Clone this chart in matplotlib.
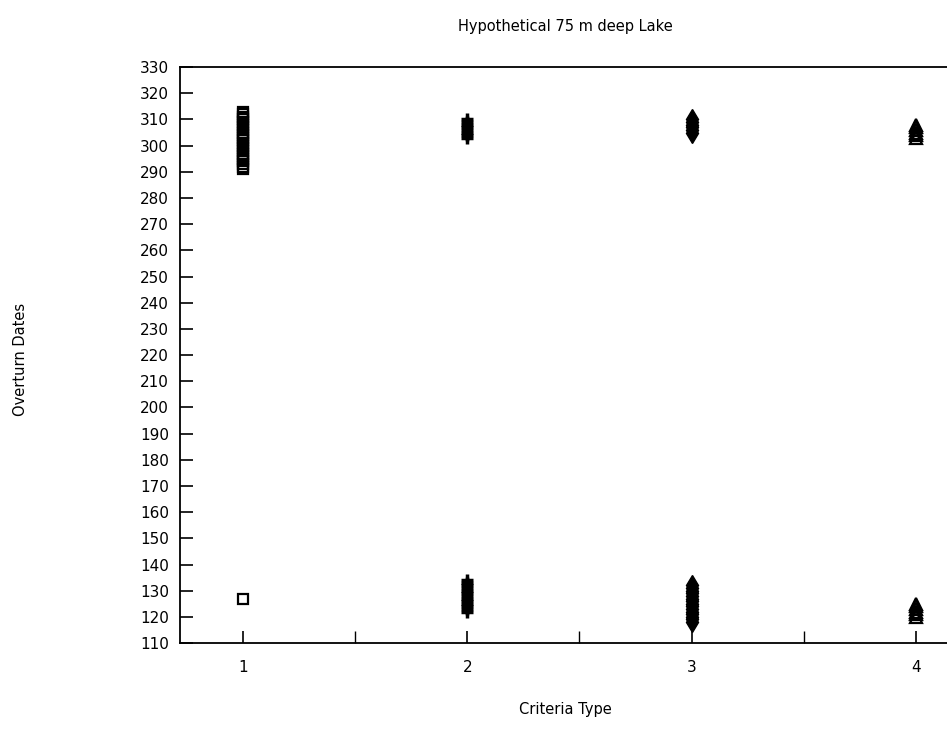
import matplotlib
matplotlib.use("Agg")
import matplotlib.pyplot as plt
import numpy as np

criteria = [1, 2, 3, 4]
c1_dates = [291, 292, 293, 294, 295, 296, 297, 298, 299, 300, 301, 302, 303, 304,
            305, 306, 307, 308, 309, 310, 311, 312, 313, 127]
c2_dates = [303, 304, 305, 306, 307, 308, 309, 310,
            122, 123, 124, 125, 126, 127, 128, 129, 130, 131, 132, 133, 134]
c3_dates = [305, 306, 307, 308, 309, 310,
            118, 119, 120, 121, 122, 123, 124, 125, 126, 127, 128, 129, 130, 131, 132]
c4_dates = [303, 304, 305, 306, 307, 308, 120, 121, 122, 123, 124, 125]
yticks = list(range(110, 331, 10))

fig = plt.figure(figsize=(9.47, 7.46), dpi=100)
ax = fig.add_axes([0.190, 0.138, 0.82, 0.772])

ax.plot([criteria[0]] * len(c1_dates), c1_dates, linestyle='none', marker='s',
        markersize=7, markerfacecolor='none', markeredgecolor='black', markeredgewidth=1.6)
ax.plot([criteria[1]] * len(c2_dates), c2_dates, linestyle='none', marker='+',
        markersize=9, markeredgecolor='black', markeredgewidth=2.5)
ax.plot([criteria[2]] * len(c3_dates), c3_dates, linestyle='none', marker='d',
        markersize=10, markerfacecolor='black', markeredgecolor='black', markeredgewidth=1)
ax.plot([criteria[3]] * len(c4_dates), c4_dates, linestyle='none', marker='^',
        markersize=8, markerfacecolor='none', markeredgecolor='black', markeredgewidth=1.6)

ax.set_xlim(0.72, 4.18)
ax.set_ylim(110, 330)
ax.set_xticks(criteria)
ax.set_xticks([1.5, 2.5, 3.5], minor=True)
ax.set_yticks(yticks)
ax.tick_params(axis='both', which='major', direction='in', length=9, width=1.2,
               labelsize=11, pad=8)
ax.tick_params(axis='x', which='minor', direction='in', length=9, width=1.0)
ax.tick_params(axis='x', which='major', pad=12)
ax.spines['right'].set_visible(False)
for s in ['left', 'top', 'bottom']:
    ax.spines[s].set_linewidth(1.3)

fig.text(0.597, 0.964, 'Hypothetical 75 m deep Lake', ha='center', va='center', fontsize=10.5)
fig.text(0.022, 0.518, 'Overturn Dates', rotation=90, ha='center', va='center', fontsize=10.5)
fig.text(0.597, 0.049, 'Criteria Type', ha='center', va='center', fontsize=10.5)

fig.savefig('out.png', dpi=100)
